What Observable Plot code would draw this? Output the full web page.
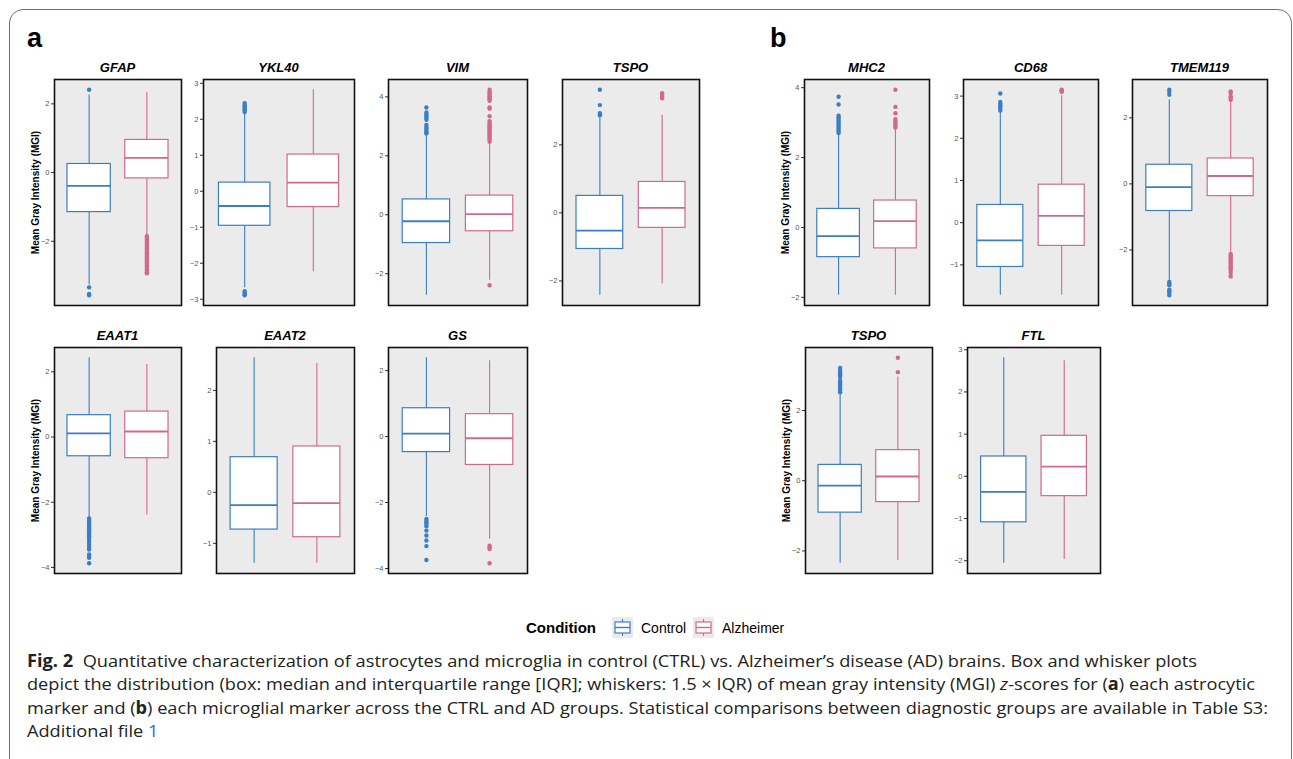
<!DOCTYPE html>
<html><head><meta charset="utf-8">
<script src="https://cdn.jsdelivr.net/npm/d3@7"></script>
<script src="https://cdn.jsdelivr.net/npm/@observablehq/plot@0.6"></script>
<style>
html,body{margin:0;padding:0;background:#fff;}
body{width:1293px;height:759px;overflow:hidden;position:relative;font-family:"Liberation Sans",Arial,sans-serif;}
#border{position:absolute;left:9px;top:9px;width:1283px;height:820px;border:1.5px solid #707070;border-radius:14px;box-sizing:border-box;}
.lbl{position:absolute;font-weight:bold;font-size:27px;line-height:1;}
.ttl{position:absolute;font-weight:bold;font-style:italic;font-size:13px;text-align:center;line-height:1;}
.pn{position:absolute;}
#legend{position:absolute;left:0;top:617px;height:22px;width:1293px;}
.cap{position:absolute;left:27px;white-space:nowrap;font-family:"Open Sans","Noto Sans",sans-serif;font-size:17px;line-height:1;color:#222;transform-origin:0 0;}
</style>
</head><body>
<div id="border"></div>
<div class="lbl" style="left:27px;top:25px">a</div>
<div class="lbl" style="left:770px;top:25px">b</div>
<div id="panels"></div>
<div id="legend"></div>
<div id="caption"></div>
<script>
// ---------- data ----------
const markers = ["GFAP","YKL40","VIM","TSPO","EAAT1","EAAT2","GS","MHC2","CD68","TMEM119","TSPO","FTL"];
const groups = ["Control","Alzheimer"];
const groupColors = ["#3B7EC3","#D2698D"];
// [whisker low, Q1, median, Q3, whisker high]
const ctrlStats = [
  [-3.27,-1.15,-0.39,0.25,2.26],
  [-2.68,-0.96,-0.41,0.24,2.15],
  [-2.73,-0.96,-0.22,0.52,2.72],
  [-2.42,-1.06,-0.52,0.50,2.80],
  [-2.48,-0.59,0.11,0.67,2.43],
  [-1.39,-0.73,-0.25,0.69,2.64],
  [-2.42,-0.47,0.09,0.86,2.39],
  [-1.94,-0.85,-0.25,0.53,2.68],
  [-1.72,-1.05,-0.42,0.42,2.64],
  [-2.92,-0.82,-0.10,0.58,2.55],
  [-2.35,-0.91,-0.14,0.45,2.48],
  [-2.06,-1.09,-0.37,0.47,2.81]
];
const adStats = [
  [-1.83,-0.17,0.43,0.95,2.32],
  [-2.24,-0.44,0.24,1.02,2.82],
  [-2.22,-0.56,0.02,0.65,2.44],
  [-2.09,-0.44,0.15,0.91,2.87],
  [-2.39,-0.65,0.17,0.78,2.22],
  [-1.39,-0.88,-0.21,0.90,2.53],
  [-3.11,-0.86,-0.05,0.68,2.30],
  [-1.94,-0.60,0.18,0.77,2.82],
  [-1.72,-0.55,0.16,0.90,3.01],
  [-2.07,-0.37,0.24,0.77,2.50],
  [-2.27,-0.61,0.12,0.87,2.95],
  [-1.97,-0.47,0.23,0.96,2.74]
];
const ctrlOutliers = [
  [2.41,-3.34,-3.53,-3.57],
  [2.20,2.24,2.28,2.32,2.36,2.40,2.45,-2.78,-2.82,-2.86,-2.89],
  [2.76,2.80,2.85,2.92,2.98,3.05,3.22,3.28,3.34,3.40,3.47,3.64],
  [2.87,2.93,3.17,3.62],
  [-2.50,-2.56,-2.62,-2.68,-2.74,-2.80,-2.86,-2.92,-2.98,-3.04,-3.10,-3.16,-3.22,-3.28,-3.34,-3.40,-3.45,-3.60,-3.65,-3.70,-3.87],
  [],
  [-2.50,-2.55,-2.60,-2.65,-2.72,-2.85,-3.00,-3.15,-3.32,-3.74],
  [2.70,2.75,2.80,2.85,2.90,2.95,3.00,3.05,3.10,3.15,3.20,3.52,3.74],
  [2.66,2.70,2.74,2.78,2.82,2.86,3.06],
  [2.70,2.78,2.85,-2.97,-3.02,-3.07,-3.20,-3.25,-3.30,-3.37],
  [2.52,2.58,2.62,2.68,2.74,2.80,2.85,2.95,3.00,3.05,3.10,3.15,3.21],
  []
];
const adOutliers = [
  [-1.85,-1.90,-1.95,-2.00,-2.05,-2.10,-2.15,-2.20,-2.25,-2.30,-2.35,-2.40,-2.45,-2.50,-2.55,-2.60,-2.65,-2.70,-2.75,-2.80,-2.85,-2.90,-2.93],
  [],
  [2.48,2.55,2.60,2.65,2.70,2.75,2.80,2.85,2.90,2.95,3.00,3.05,3.10,3.17,3.34,3.60,3.64,3.87,3.92,3.97,4.02,4.07,4.12,4.17,4.24,-2.39],
  [3.37,3.42,3.47,3.52],
  [],
  [],
  [-3.31,-3.36,-3.41,-3.84],
  [2.86,2.90,2.95,3.00,3.05,3.10,3.27,3.45,3.94],
  [3.10,3.13,3.15],
  [2.55,2.60,2.65,2.75,2.80,-2.12,-2.17,-2.22,-2.27,-2.32,-2.37,-2.42,-2.47,-2.52,-2.57,-2.62,-2.70,-2.80],
  [3.09,3.50],
  []
];
const yTicks = [
  [-2,0,2],
  [-3,-2,-1,0,1,2,3],
  [-2,0,2,4],
  [-2,0,2],
  [-4,-2,0,2],
  [-1,0,1,2],
  [-4,-2,0,2],
  [-2,0,2,4],
  [-1,0,1,2,3],
  [-2,0,2],
  [-2,0,2],
  [-2,-1,0,1,2,3]
];
const yTitle = "Mean Gray Intensity (MGI)";

// ---------- layout (frame rectangles) ----------
const layout = [
  {x:54, y:79, w:127, h:226, t:true},
  {x:203,y:79, w:151, h:226},
  {x:388,y:79, w:139, h:226},
  {x:562,y:79, w:137, h:226},
  {x:54, y:347,w:127, h:226, t:true},
  {x:216,y:347,w:138, h:226},
  {x:388,y:347,w:139, h:226},
  {x:804,y:79, w:125, h:226, t:true},
  {x:963,y:79, w:135, h:226},
  {x:1132,y:79,w:135, h:226},
  {x:805,y:347,w:127, h:226, t:true},
  {x:967,y:347,w:133, h:226}
];

const M = {l:36, r:2, t:2, b:2};
const panelsDiv = document.getElementById("panels");
const fmt = d3.format("d");

markers.forEach((name, k) => {
  const L = layout[k];
  const boxes = [ctrlStats[k], adStats[k]].map((s, i) => ({
    group: groups[i], x: i + 1, lo: s[0], q1: s[1], med: s[2], q3: s[3], hi: s[4]
  }));
  const outs = [
    ...ctrlOutliers[k].map(v => ({group: groups[0], x: 1, v})),
    ...adOutliers[k].map(v => ({group: groups[1], x: 2, v}))
  ];
  const vals = [...ctrlStats[k], ...adStats[k], ...ctrlOutliers[k], ...adOutliers[k]];
  const mn = d3.min(vals), mx = d3.max(vals), pad = (mx - mn) * 0.05;
  const hw = 0.375;
  const svg = Plot.plot({
    width: L.w + M.l + M.r, height: L.h + M.t + M.b,
    marginLeft: M.l, marginRight: M.r, marginTop: M.t, marginBottom: M.b,
    x: {domain: [0.4, 2.6], axis: null},
    y: {domain: [mn - pad, mx + pad]},
    color: {domain: groups, range: groupColors},
    style: {background: "transparent", overflow: "visible", fontFamily: "Liberation Sans, Arial, sans-serif"},
    marks: [
      Plot.frame({fill: "#EBEBEB"}),
      Plot.axisY({ticks: yTicks[k], tickFormat: fmt, tickSize: 3, tickPadding: 2, fontSize: 7.5, fill: "#555", stroke: "#333",
        label: L.t ? yTitle : null, labelAnchor: "center", labelArrow: "none", labelOffset: 23}),
      Plot.ruleX(boxes, {x: "x", y1: "lo", y2: "hi", stroke: "group", strokeWidth: 1.1}),
      Plot.rect(boxes, {x1: d => d.x - hw, x2: d => d.x + hw, y1: "q1", y2: "q3", fill: "white", stroke: "group", strokeWidth: 1.2}),
      Plot.ruleY(boxes, {x1: d => d.x - hw, x2: d => d.x + hw, y: "med", stroke: "group", strokeWidth: 1.8}),
      Plot.dot(outs, {x: "x", y: "v", r: 2.2, fill: "group", stroke: null}),
      Plot.frame({stroke: "#111", strokeWidth: 1.6})
    ]
  });
  d3.select(svg).selectAll('g[aria-label="y-axis label"] text')
    .style("font-size", "10px").style("font-weight", "bold").style("fill", "#000");
  const wrap = document.createElement("div");
  wrap.className = "pn";
  wrap.style.left = (L.x - M.l) + "px";
  wrap.style.top = (L.y - M.t) + "px";
  wrap.appendChild(svg);
  panelsDiv.appendChild(wrap);
  const t = document.createElement("div");
  t.className = "ttl";
  t.textContent = name;
  t.style.left = L.x + "px";
  t.style.width = L.w + "px";
  t.style.top = (L.y - 18) + "px";
  panelsDiv.appendChild(t);
});

// ---------- legend ----------
const legend = document.getElementById("legend");
function key(color){
  return `<svg width="21" height="21" style="vertical-align:middle"><rect width="21" height="21" fill="#EBEBEB"/>
  <line x1="10.5" x2="10.5" y1="2" y2="19" stroke="${color}" stroke-width="1.1"/>
  <rect x="3" y="5" width="15" height="11" fill="white" stroke="${color}" stroke-width="1.2"/>
  <line x1="3" x2="18" y1="10.5" y2="10.5" stroke="${color}" stroke-width="1.4"/></svg>`;
}
legend.innerHTML =
  `<span style="position:absolute;left:526px;top:2px;font-weight:bold;font-size:15px">Condition</span>` +
  `<span style="position:absolute;left:612px;top:0">${key(groupColors[0])}</span>` +
  `<span style="position:absolute;left:641px;top:3px;font-size:14px">${groups[0]}</span>` +
  `<span style="position:absolute;left:693px;top:0">${key(groupColors[1])}</span>` +
  `<span style="position:absolute;left:722px;top:3px;font-size:14px">${groups[1]}</span>`;

// ---------- caption ----------
const capLines = [
  {html: `<b>Fig. 2</b>&nbsp; Quantitative characterization of astrocytes and microglia in control (CTRL) vs. Alzheimer’s disease (AD) brains. Box and whisker plots`, right: 1197},
  {html: `depict the distribution (box: median and interquartile range [IQR]; whiskers: 1.5 × IQR) of mean gray intensity (MGI) <i>z</i>-scores for (<b>a</b>) each astrocytic`, right: 1255},
  {html: `marker and (<b>b</b>) each microglial marker across the CTRL and AD groups. Statistical comparisons between diagnostic groups are available in Table S3:`, right: 1268},
  {html: `Additional file <span style="color:#3d5fd6">1</span>`, right: null}
];
const capDiv = document.getElementById("caption");
let lastScale = 1;
capLines.forEach((c, i) => {
  const d = document.createElement("div");
  d.className = "cap";
  d.style.top = (651.5 + i * 23.6) + "px";
  d.innerHTML = c.html;
  capDiv.appendChild(d);
  const w = d.getBoundingClientRect().width;
  const s = c.right ? (c.right - 27) / w : lastScale;
  lastScale = s;
  d.style.transform = `scaleX(${s})`;
});
</script>
</body></html>
